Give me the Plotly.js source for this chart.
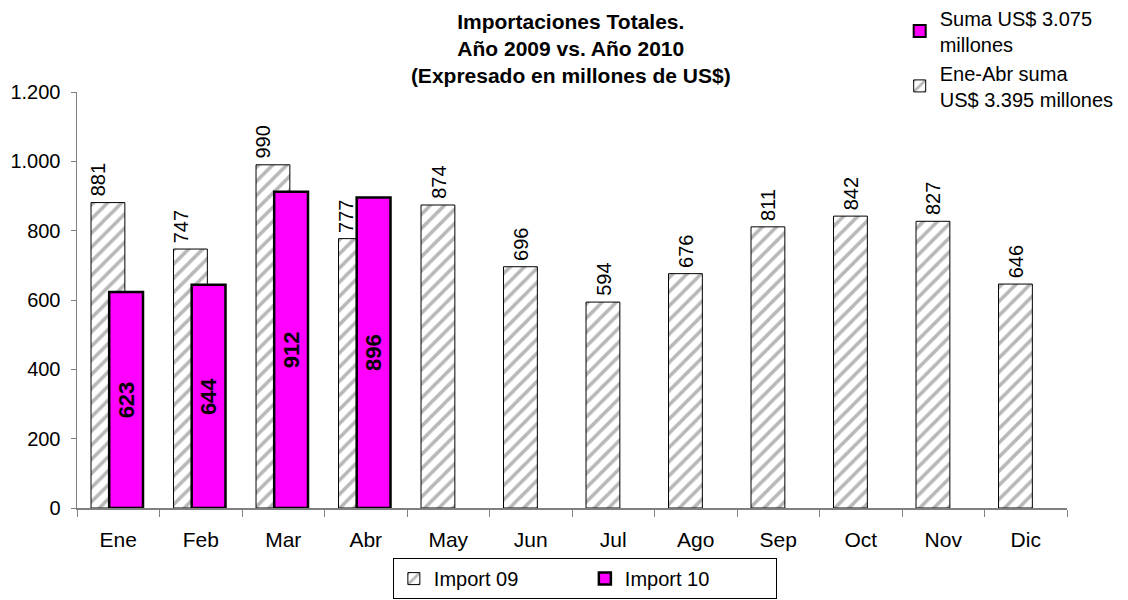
<!DOCTYPE html>
<html>
<head>
<meta charset="utf-8">
<script src="https://cdn.plot.ly/plotly-3.0.1.min.js"></script>
<style>html,body{margin:0;padding:0;background:#fff;}#chart{width:1128px;height:600px;}</style>
</head>
<body>
<div id="chart"></div>
<script>
const months = ['Ene','Feb','Mar','Abr','May','Jun','Jul','Ago','Sep','Oct','Nov','Dic'];
const import09 = [881,747,990,777,874,696,594,676,811,842,827,646];
const months10 = ['Ene','Feb','Mar','Abr'];
const import10 = [623,644,912,896];
const seriesNames = ['Import 09','Import 10'];
const noteNames = ['Suma US$ 3.075<br>millones','Ene-Abr suma<br>US$ 3.395 millones'];
const titleText = '<b>Importaciones Totales.<br>Año 2009 vs. Año 2010<br>(Expresado en millones de US$)</b>';

const FONT = 'Liberation Sans, Arial, sans-serif';
const hatch = {shape:'/', fgcolor:'#b8b8b8', bgcolor:'#ffffff', size:10, solidity:0.35};

const traces = [
  {
    type:'bar', name:seriesNames[0], x:months, y:import09,
    width:0.41, offset:-0.33,
    marker:{color:'#ffffff', pattern:hatch, line:{color:'#000', width:1}},
    legend:'legend', hoverinfo:'skip'
  },
  {
    type:'bar', name:seriesNames[1], x:months10, y:import10,
    width:0.41, offset:-0.11,
    marker:{color:'#ff00ff', line:{color:'#000', width:2.5}},
    text:import10.map(v=>'<b>'+v+'</b>'), textposition:'inside', insidetextanchor:'middle', textangle:-90,
    textfont:{family:FONT, size:22, color:'#000'},
    legend:'legend', hoverinfo:'skip'
  },
  {
    type:'bar', name:noteNames[0], x:[null], y:[null],
    marker:{color:'#ff00ff', line:{color:'#000', width:2}},
    legend:'legend2', hoverinfo:'skip'
  },
  {
    type:'bar', name:noteNames[1], x:[null], y:[null],
    marker:{color:'#ffffff', pattern:hatch, line:{color:'#000', width:1}},
    legend:'legend2', hoverinfo:'skip'
  }
];

// value labels of Import 09, drawn above the bars (shifted left where an Import 10 bar sits beside)
const labels09 = months.map((m, i) => ({
  x: m, y: import09[i], xref:'x', yref:'y',
  text: String(import09[i]), showarrow:false, textangle:-90,
  xanchor:'center', yanchor:'bottom',
  xshift: i < import10.length ? -20 : -10, yshift: 4,
  font:{family:FONT, size:20, color:'#000'}
}));

const layout = {
  width:1128, height:600,
  margin:{l:77, r:61, t:92, b:92, autoexpand:false},
  paper_bgcolor:'#fff', plot_bgcolor:'#fff',
  font:{family:FONT, color:'#000'},
  separators:',.',
  barmode:'overlay',
  title:{text:titleText, x:0.506, xanchor:'center', y:0.952, yanchor:'top',
         font:{family:FONT, size:21, color:'#000'}},
  xaxis:{type:'category', categoryorder:'array', categoryarray:months,
         showline:true, linecolor:'#808080', linewidth:1.5,
         ticks:'outside', tickson:'boundaries', ticklen:7, tickcolor:'#808080',
         ticklabelstandoff:12,
         tickfont:{family:FONT, size:21, color:'#000'}, showgrid:false, zeroline:false},
  yaxis:{range:[0,1200], dtick:200, tickformat:',d',
         showline:true, linecolor:'#808080', linewidth:1.5,
         ticks:'outside', ticklen:5, tickcolor:'#808080',
         ticklabelstandoff:6,
         tickfont:{family:FONT, size:20, color:'#000'}, showgrid:false, zeroline:false},
  legend:{orientation:'h', x:0.513, xanchor:'center', y:-0.219, yanchor:'bottom',
          bordercolor:'#000', borderwidth:1, bgcolor:'#fff',
          font:{family:FONT, size:20, color:'#000'}, entrywidth:146, traceorder:'normal'},
  legend2:{x:0.831, xanchor:'left', y:1.225, yanchor:'top',
           font:{family:FONT, size:20, color:'#000'}, bgcolor:'rgba(0,0,0,0)', traceorder:'normal',
           tracegroupgap:0},
  annotations: labels09
};

Plotly.newPlot('chart', traces, layout, {displayModeBar:false, staticPlot:true});
</script>
</body>
</html>
